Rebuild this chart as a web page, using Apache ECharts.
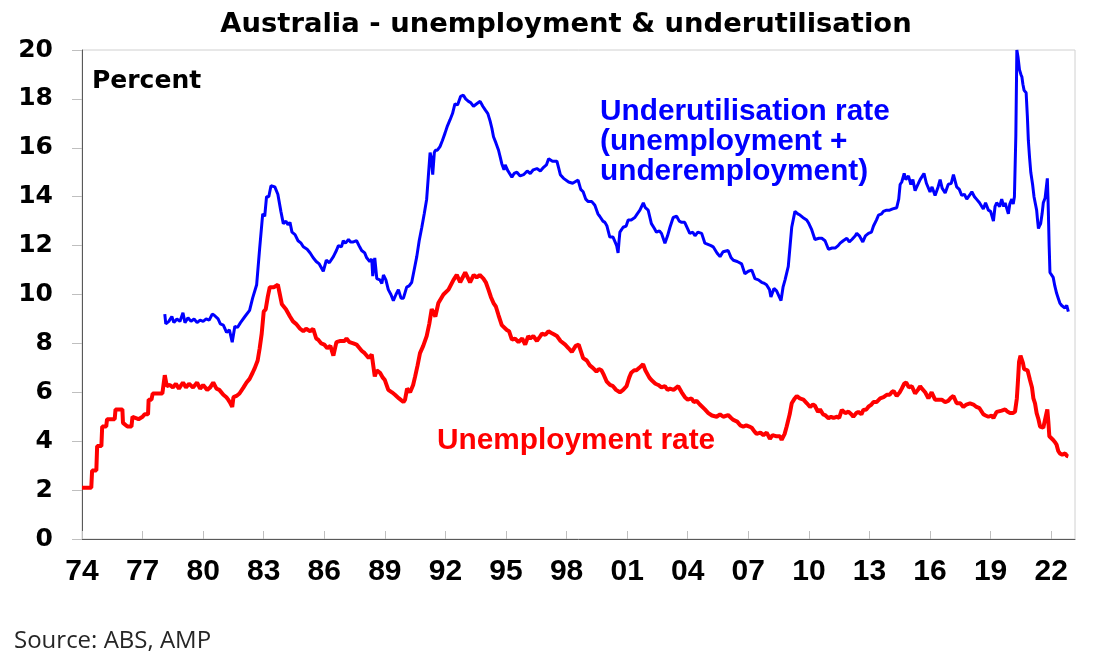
<!DOCTYPE html>
<html>
<head>
<meta charset="utf-8">
<title>Australia - unemployment & underutilisation</title>
<script src="https://cdn.jsdelivr.net/npm/echarts@6/dist/echarts.min.js"></script>
<style>
	html, body { margin: 0; padding: 0; background: #fff; }
	#chart { width: 1098px; height: 667px; }
</style>
</head>
<body>
<div id="chart"></div>
<script type="text/javascript">
	// 失业率 (decimal year / percent)
	var ueDates = [
		1974.0, 1974.46, 1974.5, 1974.71, 1974.75, 1974.96, 1975.0, 1975.2, 1975.24, 1975.62,
		1975.66, 1976.0, 1976.03, 1976.25, 1976.45, 1976.5, 1976.8, 1977.0, 1977.1, 1977.27,
		1977.3, 1977.44, 1977.5, 1977.98, 1978.1, 1978.2, 1978.35, 1978.5, 1978.65, 1978.8,
		1979.0, 1979.15, 1979.3, 1979.5, 1979.7, 1979.85, 1980.0, 1980.2, 1980.35, 1980.5,
		1980.66, 1980.8, 1981.0, 1981.15, 1981.24, 1981.35, 1981.44, 1981.5, 1981.65, 1981.8,
		1982.0, 1982.15, 1982.3, 1982.45, 1982.56, 1982.7, 1982.8, 1982.9, 1983.0, 1983.1,
		1983.2, 1983.3, 1983.5, 1983.7, 1983.8, 1983.9, 1984.1, 1984.3, 1984.45, 1984.6,
		1984.8, 1984.96, 1985.1, 1985.3, 1985.45, 1985.6, 1985.7, 1985.85, 1986.0, 1986.15,
		1986.3, 1986.45, 1986.6, 1986.8, 1987.0, 1987.1, 1987.25, 1987.44, 1987.6, 1987.75,
		1987.85, 1988.0, 1988.2, 1988.35, 1988.5, 1988.6, 1988.76, 1988.9, 1989.0, 1989.17,
		1989.35, 1989.5, 1989.7, 1989.92, 1990.0, 1990.1, 1990.25, 1990.4, 1990.5, 1990.62,
		1990.74, 1990.9, 1991.07, 1991.2, 1991.32, 1991.5, 1991.65, 1991.9, 1992.15, 1992.4,
		1992.56, 1992.73, 1992.98, 1993.1, 1993.22, 1993.4, 1993.55, 1993.7, 1993.88, 1994.0,
		1994.13, 1994.25, 1994.38, 1994.5, 1994.63, 1994.79, 1995.04, 1995.15, 1995.29, 1995.45,
		1995.62, 1995.8, 1995.95, 1996.1, 1996.2, 1996.35, 1996.53, 1996.7, 1996.78, 1996.95,
		1997.1, 1997.3, 1997.52, 1997.7, 1997.93, 1998.1, 1998.26, 1998.45, 1998.6, 1998.82,
		1999.0, 1999.15, 1999.3, 1999.48, 1999.6, 1999.73, 1999.85, 1999.98, 2000.15, 2000.3,
		2000.45, 2000.64, 2000.8, 2000.97, 2001.1, 2001.2, 2001.35, 2001.46, 2001.6, 2001.79,
		2001.9, 2001.96, 2002.1, 2002.2, 2002.4, 2002.54, 2002.7, 2002.87, 2003.0, 2003.12,
		2003.3, 2003.53, 2003.7, 2003.86, 2004.0, 2004.19, 2004.3, 2004.44, 2004.6, 2004.69,
		2004.85, 2005.02, 2005.2, 2005.43, 2005.6, 2005.76, 2006.0, 2006.15, 2006.26, 2006.45,
		2006.6, 2006.75, 2006.9, 2007.05, 2007.17, 2007.3, 2007.41, 2007.6, 2007.75, 2007.91,
		2008.07, 2008.2, 2008.27, 2008.4, 2008.57, 2008.65, 2008.8, 2008.9, 2009.05, 2009.15,
		2009.3, 2009.4, 2009.55, 2009.73, 2009.9, 2010.06, 2010.2, 2010.3, 2010.45, 2010.55,
		2010.7, 2010.8, 2010.97, 2011.1, 2011.22, 2011.4, 2011.5, 2011.63, 2011.8, 2011.96,
		2012.1, 2012.2, 2012.35, 2012.45, 2012.6, 2012.7, 2012.85, 2012.95, 2013.1, 2013.2,
		2013.35, 2013.53, 2013.7, 2013.86, 2014.0, 2014.1, 2014.2, 2014.35, 2014.5, 2014.6,
		2014.72, 2014.82, 2014.95, 2015.1, 2015.26, 2015.4, 2015.51, 2015.6, 2015.76, 2015.92,
		2016.08, 2016.25, 2016.4, 2016.58, 2016.75, 2016.9, 2017.0, 2017.16, 2017.32, 2017.5,
		2017.65, 2017.8, 2017.98, 2018.15, 2018.3, 2018.45, 2018.64, 2018.75, 2018.89, 2019.05,
		2019.14, 2019.3, 2019.39, 2019.55, 2019.72, 2019.85, 2019.96, 2020.1, 2020.21, 2020.3,
		2020.35, 2020.41, 2020.48, 2020.54, 2020.6, 2020.66, 2020.75, 2020.83, 2020.95, 2021.05,
		2021.12, 2021.2, 2021.28, 2021.37, 2021.45, 2021.53, 2021.61, 2021.7, 2021.78, 2021.81,
		2021.86, 2021.91, 2022.0, 2022.1, 2022.2, 2022.27, 2022.35, 2022.43, 2022.55, 2022.6,
		2022.7, 2022.77, 2022.85
	];
	var ueValues = [
		2.1, 2.1, 2.8, 2.8, 3.8, 3.8, 4.6, 4.6, 4.9, 4.9,
		5.3, 5.3, 4.75, 4.6, 4.6, 5.0, 4.9, 5.0, 5.1, 5.1,
		5.7, 5.7, 5.95, 5.95, 6.7, 6.25, 6.3, 6.2, 6.35, 6.15,
		6.4, 6.2, 6.35, 6.2, 6.4, 6.15, 6.3, 6.1, 6.2, 6.4,
		6.15, 6.1, 5.9, 5.8, 5.7, 5.55, 5.4, 5.8, 5.85, 5.95,
		6.2, 6.4, 6.55, 6.8, 7.0, 7.3, 7.8, 8.4, 9.3, 9.4,
		9.9, 10.3, 10.3, 10.4, 10.0, 9.6, 9.4, 9.1, 8.9, 8.8,
		8.6, 8.5, 8.6, 8.5, 8.6, 8.2, 8.15, 8.0, 7.95, 7.8,
		7.9, 7.5, 8.05, 8.1, 8.1, 8.2, 8.05, 8.0, 7.95, 7.8,
		7.7, 7.6, 7.4, 7.55, 6.65, 6.9, 6.8, 6.6, 6.5, 6.1,
		6.0, 5.9, 5.75, 5.6, 5.7, 6.15, 6.0, 6.3, 6.65, 7.1,
		7.6, 7.9, 8.3, 8.8, 9.4, 9.1, 9.65, 10.0, 10.2, 10.6,
		10.8, 10.5, 10.9, 10.7, 10.5, 10.8, 10.7, 10.8, 10.65, 10.5,
		10.2, 9.9, 9.65, 9.5, 9.15, 8.75, 8.55, 8.5, 8.15, 8.2,
		8.05, 8.2, 7.95, 8.3, 8.2, 8.3, 8.1, 8.3, 8.4, 8.35,
		8.5, 8.4, 8.3, 8.1, 7.95, 7.8, 7.65, 7.9, 7.95, 7.4,
		7.3, 7.1, 7.0, 6.85, 6.95, 6.9, 6.7, 6.45, 6.3, 6.25,
		6.1, 6.0, 6.1, 6.25, 6.6, 6.8, 6.9, 6.9, 7.0, 7.15,
		6.9, 6.85, 6.6, 6.5, 6.35, 6.3, 6.2, 6.25, 6.1, 6.15,
		6.1, 6.25, 6.0, 5.8, 5.7, 5.75, 5.6, 5.65, 5.5, 5.55,
		5.3, 5.15, 5.05, 5.0, 5.1, 5.0, 5.07, 4.95, 4.87, 4.8,
		4.65, 4.6, 4.65, 4.6, 4.55, 4.4, 4.3, 4.35, 4.25, 4.35,
		4.1, 4.25, 4.3, 4.2, 4.2, 4.05, 4.3, 4.6, 5.1, 5.55,
		5.75, 5.85, 5.75, 5.7, 5.55, 5.4, 5.5, 5.45, 5.2, 5.3,
		5.1, 5.07, 4.94, 5.0, 4.95, 5.0, 4.95, 5.28, 5.15, 5.21,
		5.1, 5.0, 5.15, 5.2, 5.1, 5.28, 5.3, 5.41, 5.5, 5.6,
		5.6, 5.75, 5.8, 5.9, 5.9, 6.0, 6.05, 5.85, 6.0, 6.15,
		6.35, 6.4, 6.2, 6.25, 5.95, 6.1, 6.25, 6.15, 6.0, 5.75,
		6.0, 5.7, 5.7, 5.7, 5.6, 5.65, 5.75, 5.85, 5.55, 5.55,
		5.4, 5.5, 5.55, 5.5, 5.4, 5.35, 5.1, 5.05, 5.0, 5.05,
		4.95, 5.2, 5.28, 5.25, 5.3, 5.2, 5.15, 5.15, 5.21, 5.75,
		6.4, 7.25, 7.5, 7.55, 7.2, 6.95, 7.0, 6.9, 6.5, 6.2,
		5.75, 5.55, 5.15, 4.9, 4.6, 4.6, 4.55, 4.6, 5.2, 5.3,
		4.8, 4.2, 4.15, 4.05, 3.95, 3.85, 3.6, 3.5, 3.45, 3.45,
		3.5, 3.4, 3.38
	];

	// 劳动力未充分利用率
	var uuDates = [
		1978.1, 1978.15, 1978.3, 1978.45, 1978.55, 1978.7, 1978.85, 1979.0, 1979.1, 1979.25,
		1979.4, 1979.55, 1979.7, 1979.85, 1980.0, 1980.15, 1980.3, 1980.45, 1980.55, 1980.74,
		1980.85, 1981.0, 1981.16, 1981.3, 1981.44, 1981.57, 1981.7, 1981.85, 1982.07, 1982.3,
		1982.45, 1982.65, 1982.8, 1982.95, 1983.05, 1983.14, 1983.25, 1983.36, 1983.55, 1983.7,
		1983.85, 1983.97, 1984.1, 1984.2, 1984.3, 1984.4, 1984.55, 1984.7, 1984.85, 1984.96,
		1985.15, 1985.3, 1985.45, 1985.6, 1985.75, 1985.95, 1986.1, 1986.25, 1986.45, 1986.6,
		1986.7, 1986.85, 1986.94, 1987.05, 1987.2, 1987.3, 1987.44, 1987.6, 1987.75, 1987.85,
		1988.0, 1988.1, 1988.25, 1988.35, 1988.4, 1988.5, 1988.6, 1988.75, 1988.85, 1988.93,
		1989.05, 1989.17, 1989.3, 1989.42, 1989.55, 1989.67, 1989.8, 1989.92, 1990.08, 1990.2,
		1990.33, 1990.45, 1990.58, 1990.7, 1990.83, 1990.95, 1991.07, 1991.15, 1991.24, 1991.3,
		1991.37, 1991.45, 1991.5, 1991.6, 1991.73, 1991.85, 1991.98, 1992.1, 1992.23, 1992.35,
		1992.47, 1992.6, 1992.75, 1992.89, 1993.0, 1993.14, 1993.25, 1993.39, 1993.55, 1993.72,
		1993.85, 1993.97, 1994.1, 1994.21, 1994.3, 1994.38, 1994.5, 1994.63, 1994.72, 1994.79,
		1994.9, 1994.96, 1995.1, 1995.29, 1995.4, 1995.54, 1995.7, 1995.87, 1996.05, 1996.2,
		1996.35, 1996.53, 1996.7, 1996.86, 1997.0, 1997.11, 1997.3, 1997.52, 1997.6, 1997.69,
		1997.85, 1998.1, 1998.3, 1998.57, 1998.7, 1998.82, 1998.95, 1999.07, 1999.25, 1999.4,
		1999.55, 1999.64, 1999.8, 1999.9, 2000.0, 2000.14, 2000.3, 2000.39, 2000.48, 2000.55,
		2000.6, 2000.64, 2000.8, 2000.95, 2001.05, 2001.2, 2001.38, 2001.5, 2001.63, 2001.8,
		2001.9, 2002.04, 2002.2, 2002.35, 2002.45, 2002.6, 2002.7, 2002.87, 2003.0, 2003.12,
		2003.28, 2003.45, 2003.58, 2003.7, 2003.85, 2003.94, 2004.1, 2004.25, 2004.36, 2004.5,
		2004.69, 2004.85, 2005.0, 2005.15, 2005.26, 2005.45, 2005.6, 2005.75, 2006.0, 2006.15,
		2006.26, 2006.45, 2006.67, 2006.83, 2007.0, 2007.17, 2007.33, 2007.5, 2007.66, 2007.8,
		2007.9, 2008.05, 2008.12, 2008.27, 2008.4, 2008.49, 2008.62, 2008.72, 2008.82, 2008.98,
		2009.07, 2009.15, 2009.31, 2009.45, 2009.56, 2009.7, 2009.89, 2010.0, 2010.14, 2010.3,
		2010.39, 2010.5, 2010.64, 2010.8, 2010.97, 2011.15, 2011.3, 2011.45, 2011.55, 2011.7,
		2011.88, 2012.0, 2012.13, 2012.3, 2012.37, 2012.5, 2012.67, 2012.8, 2012.95, 2013.1,
		2013.2, 2013.35, 2013.45, 2013.6, 2013.69, 2013.85, 2014.0, 2014.15, 2014.35, 2014.45,
		2014.52, 2014.6, 2014.72, 2014.8, 2014.93, 2015.05, 2015.15, 2015.26, 2015.4, 2015.51,
		2015.6, 2015.7, 2015.82, 2016.0, 2016.1, 2016.25, 2016.4, 2016.5, 2016.6, 2016.75,
		2016.9, 2017.05, 2017.16, 2017.32, 2017.45, 2017.57, 2017.7, 2017.82, 2017.95, 2018.07,
		2018.2, 2018.3, 2018.45, 2018.64, 2018.75, 2018.89, 2019.0, 2019.14, 2019.22, 2019.3,
		2019.45, 2019.55, 2019.65, 2019.72, 2019.8, 2019.88, 2019.95, 2020.05, 2020.12, 2020.18,
		2020.25, 2020.3, 2020.36, 2020.43, 2020.5, 2020.55, 2020.6, 2020.66, 2020.76, 2020.82,
		2020.87, 2020.93, 2020.99, 2021.08, 2021.15, 2021.22, 2021.28, 2021.33, 2021.37, 2021.42,
		2021.48, 2021.55, 2021.61, 2021.7, 2021.76, 2021.81, 2021.84, 2021.86, 2021.9, 2021.94,
		2022.02, 2022.1, 2022.18, 2022.27, 2022.35, 2022.43, 2022.52, 2022.6, 2022.68, 2022.77,
		2022.85
	];
	var uuValues = [
		9.2, 8.8, 8.9, 9.1, 8.85, 9.0, 8.9, 9.25, 8.85, 9.05,
		8.9, 9.0, 8.85, 8.95, 8.9, 9.0, 8.95, 9.2, 9.15, 9.0,
		8.8, 8.75, 8.45, 8.55, 8.05, 8.7, 8.65, 8.85, 9.1, 9.35,
		9.85, 10.4, 11.9, 13.3, 13.2, 14.0, 14.0, 14.45, 14.4, 14.1,
		13.4, 12.9, 13.0, 12.85, 12.95, 12.55, 12.45, 12.2, 12.1, 11.95,
		11.85, 11.7, 11.5, 11.35, 11.25, 10.95, 11.4, 11.3, 11.55, 11.8,
		12.0, 11.95, 12.2, 12.1, 12.25, 12.15, 12.15, 12.2, 11.95, 11.8,
		11.7, 11.5, 11.35, 11.45, 10.75, 11.5, 10.65, 10.6, 10.45, 10.8,
		10.6, 10.2, 10.0, 9.75, 10.0, 10.2, 9.85, 9.85, 10.3, 10.35,
		10.5, 11.0, 11.55, 12.2, 12.75, 13.3, 13.9, 14.8, 15.8, 15.6,
		14.9, 15.8, 15.9, 15.9, 16.05, 16.3, 16.6, 16.9, 17.15, 17.4,
		17.8, 17.75, 18.1, 18.15, 18.0, 17.9, 17.85, 17.7, 17.8, 17.9,
		17.7, 17.55, 17.4, 17.1, 16.8, 16.45, 16.2, 15.9, 15.6, 15.35,
		15.1, 15.3, 15.05, 14.8, 14.95, 15.0, 14.85, 14.9, 15.05, 14.95,
		15.1, 15.15, 15.05, 15.2, 15.3, 15.55, 15.45, 15.45, 15.2, 14.9,
		14.75, 14.6, 14.55, 14.68, 14.3, 14.2, 13.9, 13.8, 13.8, 13.65,
		13.3, 13.2, 13.0, 12.95, 12.8, 12.35, 12.35, 12.3, 12.0, 11.7,
		12.2, 12.55, 12.75, 12.8, 13.05, 13.05, 13.15, 13.3, 13.45, 13.75,
		13.55, 13.45, 12.9, 12.7, 12.55, 12.6, 12.5, 12.1, 12.4, 12.75,
		13.15, 13.2, 13.0, 12.95, 12.95, 12.9, 12.5, 12.55, 12.4, 12.55,
		12.5, 12.1, 12.05, 12.0, 11.95, 11.7, 11.55, 11.75, 11.8, 11.5,
		11.4, 11.35, 11.25, 10.85, 10.95, 11.0, 10.65, 10.6, 10.5, 10.45,
		10.4, 10.2, 9.9, 10.25, 10.15, 10.1, 9.75, 10.3, 10.6, 11.15,
		12.0, 12.75, 13.4, 13.3, 13.25, 13.15, 13.05, 12.9, 12.65, 12.25,
		12.2, 12.3, 12.3, 12.2, 11.85, 11.9, 11.9, 12.0, 12.1, 12.2,
		12.3, 12.15, 12.25, 12.4, 12.5, 12.4, 12.15, 12.4, 12.5, 12.55,
		12.8, 13.05, 13.25, 13.3, 13.4, 13.45, 13.45, 13.5, 13.55, 13.9,
		14.5, 14.6, 14.95, 14.7, 14.85, 14.5, 14.7, 14.25, 14.5, 14.7,
		14.65, 14.95, 14.55, 14.2, 14.4, 14.05, 14.4, 14.7, 14.35, 14.15,
		14.5, 14.55, 14.9, 14.4, 14.3, 14.05, 14.1, 13.9, 14.05, 14.2,
		14.0, 13.9, 13.75, 13.5, 13.75, 13.45, 13.4, 13.0, 13.6, 13.75,
		13.6, 13.9, 13.6, 13.75, 13.7, 13.3, 13.7, 13.9, 13.7, 14.0,
		16.5, 20.0, 19.7, 19.2, 19.0, 18.9, 18.6, 18.35, 18.25, 17.3,
		16.3, 15.6, 15.0, 14.5, 14.0, 13.7, 13.45, 13.0, 12.7, 12.8,
		12.9, 13.3, 13.75, 13.95, 14.0, 14.75, 14.0, 13.4, 12.0, 10.9,
		10.85, 10.7, 10.35, 10.05, 9.85, 9.65, 9.55, 9.5, 9.45, 9.55,
		9.3
	];

	var yTicks = [0, 20, 2];            // min, max, step
	var xRange = [1974, 2023.18, 3];     // min, max, label step

	function pairs(xs, ys) {
		var out = [];
		for (var i = 0; i < xs.length; i++) out.push([xs[i], ys[i]]);
		return out;
	}

	var boldWide = '"DejaVu Sans", sans-serif';
	var boldArial = '"Liberation Sans", Arial, sans-serif';

	var myChart = echarts.init(document.getElementById('chart'), null, {renderer: 'canvas'});
	var option = {
		backgroundColor: '#ffffff',
		animation: false,
		grid: {
			left: 82, right: 23, top: 50, bottom: 128,
			show: true, borderColor: '#d0d0d0', borderWidth: 1
		},
		xAxis: {
			type: 'value',
			min: xRange[0],
			max: xRange[1],
			interval: xRange[2],
			axisLine: {show: true, lineStyle: {color: '#595959', width: 1}},
			axisTick: {show: true, inside: true, length: 8, lineStyle: {color: '#bfbfbf'}},
			splitLine: {show: false},
			axisLabel: {
				margin: 18,
				showMaxLabel: false,
				color: '#000',
				fontFamily: boldArial,
				fontWeight: 'bold',
				fontSize: 30,
				formatter: function (v) {
					var y = Math.round(v);
					if (Math.abs(v - y) > 0.01 || (y - 1974) % 3 !== 0) return '';
					var s = String(y % 100);
					return s.length < 2 ? '0' + s : s;
				}
			}
		},
		yAxis: {
			type: 'value',
			min: yTicks[0],
			max: yTicks[1],
			interval: yTicks[2],
			axisLine: {show: true, lineStyle: {color: '#595959', width: 1}},
			axisTick: {show: true, inside: false, length: 10, lineStyle: {color: '#bfbfbf'}},
			splitLine: {show: false},
			axisLabel: {
				margin: 29,
				color: '#000',
				fontFamily: boldWide,
				fontWeight: 'bold',
				fontSize: 25
			}
		},
		series: [
			{
				name: 'Unemployment rate',
				type: 'line',
				data: pairs(ueDates, ueValues),
				showSymbol: false,
				lineStyle: {color: '#ff0000', width: 4},
				itemStyle: {color: '#ff0000'},
				z: 2
			},
			{
				name: 'Underutilisation rate',
				type: 'line',
				data: pairs(uuDates, uuValues),
				showSymbol: false,
				lineStyle: {color: '#0000ff', width: 3},
				itemStyle: {color: '#0000ff'},
				z: 3
			}
		],
		graphic: [
			{
				type: 'text', x: 566, y: 25,
				style: {
					text: 'Australia - unemployment & underutilisation',
					font: 'bold 27.4px ' + boldWide,
					fill: '#000', align: 'center', verticalAlign: 'middle'
				}
			},
			{
				type: 'text', x: 92, y: 81,
				style: {
					text: 'Percent',
					font: 'bold 25px ' + boldWide,
					fill: '#000', align: 'left', verticalAlign: 'middle'
				}
			},
			{
				type: 'text', x: 600, y: 142,
				style: {
					text: 'Underutilisation rate\n(unemployment +\nunderemployment)',
					font: 'bold 29.8px ' + boldArial,
					lineHeight: 30,
					fill: '#0000ff', align: 'left', verticalAlign: 'middle'
				}
			},
			{
				type: 'text', x: 437, y: 441,
				style: {
					text: 'Unemployment rate',
					font: 'bold 29.8px ' + boldArial,
					fill: '#ff0000', align: 'left', verticalAlign: 'middle'
				}
			},
			{
				type: 'text', x: 14, y: 641,
				style: {
					text: 'Source: ABS, AMP',
					font: '24px "Open Sans", sans-serif',
					fill: '#262626', align: 'left', verticalAlign: 'middle'
				}
			}
		]
	};
	myChart.setOption(option);
</script>
</body>
</html>
